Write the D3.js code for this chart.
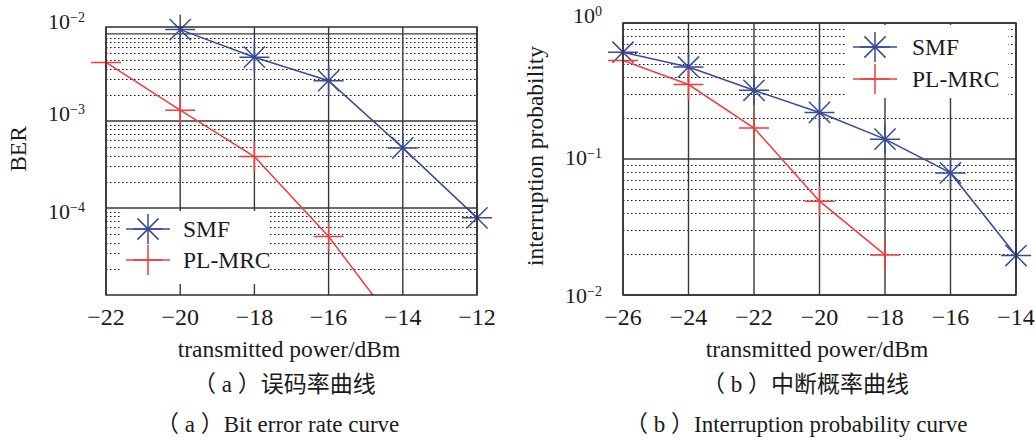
<!DOCTYPE html>
<html>
  <head>
    <meta charset="utf-8" />
    <title>BER and interruption probability</title>
    <style>
      body {
        margin: 0;
        background: #fff;
      }
      text {
        font-family: "Liberation Serif", "Times New Roman", "Noto Sans CJK SC", serif;
        fill: #1a1a1a;
      }
    </style>
  </head>
  <body>
    <div id="chart"></div>

    <script src="https://d3js.org/d3.v7.min.js"></script>
    <script>
      // (a) bit error rate
      const berTicksX = [-22, -20, -18, -16, -14, -12];
      const berTicksY = [1e-2, 1e-3, 1e-4];
      const berTickExp = ["\u22122", "\u22123", "\u22124"];
      const berSmfPower = [-20, -18, -16, -14, -12];
      const berSmf = [1.12e-2, 5.4e-3, 2.9e-3, 4.9e-4, 7.7e-5];
      const berMrcPower = [-22, -20, -18, -16, -14];
      const berMrc = [4.7e-3, 1.33e-3, 3.9e-4, 4.7e-5, 3.5e-6];

      // (b) interruption probability
      const opTicksX = [-26, -24, -22, -20, -18, -16, -14];
      const opTicksY = [1, 1e-1, 1e-2];
      const opTickExp = ["0", "\u22121", "\u22122"];
      const opSmfPower = [-26, -24, -22, -20, -18, -16, -14];
      const opSmf = [0.61, 0.475, 0.32, 0.22, 0.14, 0.079, 0.0195];
      const opMrcPower = [-26, -24, -22, -20, -18];
      const opMrc = [0.53, 0.353, 0.169, 0.049, 0.0197];

      const seriesNames = ["SMF", "PL-MRC"];

      const blue = "#3a4a96";
      const red = "#f03c3c";
      const gridColor = "#383838";

      const starPath =
        "M-15,0H15M0,-15V15M-10.6,-10.6L10.6,10.6M-10.6,10.6L10.6,-10.6";
      const plusPath = "M-15,0H15M0,-15V15";

      var svg = d3
        .select("#chart")
        .append("svg")
        .attr("width", 1035)
        .attr("height", 440);

      function drawPanel(p) {
        var x = d3.scaleLinear().domain(p.xDomain).range([p.left, p.right]);
        var y = d3.scaleLog().domain(p.yDomain).range([p.bottom, p.top]);
        var g = svg.append("g");

        // minor log grid (dotted)
        var minor = [];
        var lo = Math.floor(Math.log10(p.yDomain[0]));
        var hi = Math.ceil(Math.log10(p.yDomain[1]));
        for (var e = lo; e < hi; e++) {
          for (var k = 2; k <= 9; k++) {
            var v = k * Math.pow(10, e);
            if (v > p.yDomain[0] && v < p.yDomain[1]) minor.push(v);
          }
        }
        g.selectAll(".minor")
          .data(minor)
          .enter()
          .append("line")
          .attr("x1", p.left)
          .attr("x2", p.right)
          .attr("y1", (d) => Math.round(y(d)) + 0.5)
          .attr("y2", (d) => Math.round(y(d)) + 0.5)
          .attr("stroke", "#111")
          .attr("stroke-width", 1.1)
          .attr("stroke-dasharray", "1.5,2.5");

        // major grid
        g.selectAll(".vgrid")
          .data(p.xTicks)
          .enter()
          .append("line")
          .attr("x1", (d) => x(d))
          .attr("x2", (d) => x(d))
          .attr("y1", p.top)
          .attr("y2", p.bottom)
          .attr("stroke", gridColor)
          .attr("stroke-width", 1.4);
        g.selectAll(".hgrid")
          .data(p.yTicks)
          .enter()
          .append("line")
          .attr("x1", p.left)
          .attr("x2", p.right)
          .attr("y1", (d) => y(d))
          .attr("y2", (d) => y(d))
          .attr("stroke", gridColor)
          .attr("stroke-width", 1.4);

        // legend background hides the grid
        g.append("rect")
          .attr("x", p.legend.x)
          .attr("y", p.legend.y)
          .attr("width", p.legend.w)
          .attr("height", p.legend.h)
          .attr("fill", "#fff");

        var clipId = "clip" + p.id;
        svg
          .append("clipPath")
          .attr("id", clipId)
          .append("rect")
          .attr("x", p.left)
          .attr("y", p.top)
          .attr("width", p.right - p.left)
          .attr("height", p.bottom - p.top);

        var line = d3
          .line()
          .x((d) => x(d[0]))
          .y((d) => y(d[1]));

        p.series.forEach(function (s) {
          var pts = s.power.map((d, i) => [d, s.values[i]]);
          g.append("path")
            .datum(pts)
            .attr("clip-path", "url(#" + clipId + ")")
            .attr("d", line)
            .attr("fill", "none")
            .attr("stroke", s.color)
            .attr("stroke-width", 1.5);
          g.selectAll(null)
            .data(pts.filter((d) => d[1] >= p.yDomain[0] && d[1] <= p.yDomain[1]))
            .enter()
            .append("path")
            .attr("transform", (d) => "translate(" + x(d[0]) + "," + y(d[1]) + ")")
            .attr("d", s.marker)
            .attr("fill", "none")
            .attr("stroke", s.color)
            .attr("stroke-width", 1.5);
        });

        // axes box
        g.append("rect")
          .attr("x", p.left)
          .attr("y", p.top)
          .attr("width", p.right - p.left)
          .attr("height", p.bottom - p.top)
          .attr("fill", "none")
          .attr("stroke", "#2e2e2e")
          .attr("stroke-width", 1.5);

        // tick labels
        g.selectAll(".xlab")
          .data(p.xTicks)
          .enter()
          .append("text")
          .attr("x", (d) => x(d))
          .attr("y", 317)
          .attr("dy", "0.35em")
          .attr("text-anchor", "middle")
          .style("font-size", "24px")
          .text((d) => (d < 0 ? "\u2212" + Math.abs(d) : d));

        var ylab = g
          .selectAll(".ylab")
          .data(p.yTicks)
          .enter()
          .append("text")
          .attr("x", p.left - 21)
          .attr("y", (d, i) => y(d) + p.labelNudge[i])
          .attr("dy", "0.35em")
          .attr("text-anchor", "end")
          .style("font-size", "22px");
        ylab.append("tspan").text("10");
        ylab
          .append("tspan")
          .attr("dy", "-0.5em")
          .style("font-size", "14px")
          .text((d, i) => p.tickExp[i]);

        // axis titles
        g.append("text")
          .attr("x", p.xTitleX)
          .attr("y", 349)
          .attr("dy", "0.35em")
          .attr("text-anchor", "middle")
          .style("font-size", "23.5px")
          .text("transmitted power/dBm");
        g.append("text")
          .attr(
            "transform",
            "translate(" + p.yTitle[0] + "," + p.yTitle[1] + ") rotate(-90)"
          )
          .attr("dy", "0.35em")
          .attr("text-anchor", "middle")
          .style("font-size", "23.5px")
          .text(p.yTitleText);

        // captions
        g.append("text")
          .attr("x", p.capX[0])
          .attr("y", 384)
          .attr("dy", "0.35em")
          .style("font-size", "23px")
          .text(p.captions[0]);
        g.append("text")
          .attr("x", p.capX[1])
          .attr("y", 424)
          .attr("dy", "0.35em")
          .style("font-size", "23px")
          .text(p.captions[1]);

        // legend entries
        p.series.forEach(function (s, i) {
          var ly = p.legend.rows[i];
          g.append("line")
            .attr("x1", p.legend.mx - 22)
            .attr("x2", p.legend.mx + 22)
            .attr("y1", ly)
            .attr("y2", ly)
            .attr("stroke", s.color)
            .attr("stroke-width", 1.5);
          g.append("path")
            .attr("transform", "translate(" + p.legend.mx + "," + ly + ")")
            .attr("d", s.marker)
            .attr("fill", "none")
            .attr("stroke", s.color)
            .attr("stroke-width", 1.5);
          g.append("text")
            .attr("x", p.legend.tx)
            .attr("y", ly)
            .attr("dy", "0.35em")
            .style("font-size", "23.5px")
            .text(seriesNames[i]);
        });
      }

      drawPanel({
        id: "a",
        left: 106,
        right: 477,
        top: 27,
        bottom: 295,
        xDomain: [-22, -12],
        yDomain: [1e-5, 1.2e-2],
        xTicks: berTicksX,
        yTicks: berTicksY,
        tickExp: berTickExp,
        labelNudge: [-13, -8, 3],
        xTitleX: 289,
        yTitle: [18, 149],
        yTitleText: "BER",
        capX: [193, 156],
        captions: ["（ a ）误码率曲线", "（ a ）Bit error rate curve"],
        legend: { x: 120, y: 211, w: 150, h: 73, rows: [229, 260], mx: 148, tx: 183 },
        series: [
          { power: berSmfPower, values: berSmf, color: blue, marker: starPath },
          { power: berMrcPower, values: berMrc, color: red, marker: plusPath },
        ],
      });

      drawPanel({
        id: "b",
        left: 623,
        right: 1016,
        top: 23,
        bottom: 295,
        xDomain: [-26, -14],
        yDomain: [1e-2, 1],
        xTicks: opTicksX,
        yTicks: opTicksY,
        tickExp: opTickExp,
        labelNudge: [-8, -2, 0],
        xTitleX: 817,
        yTitle: [535, 156],
        yTitleText: "interruption probability",
        capX: [702, 625],
        captions: ["（ b ）中断概率曲线", "（ b ）Interruption probability curve"],
        legend: { x: 845, y: 25, w: 163, h: 73, rows: [47, 79], mx: 875, tx: 912 },
        series: [
          { power: opSmfPower, values: opSmf, color: blue, marker: starPath },
          { power: opMrcPower, values: opMrc, color: red, marker: plusPath },
        ],
      });
    </script>
  </body>
</html>
